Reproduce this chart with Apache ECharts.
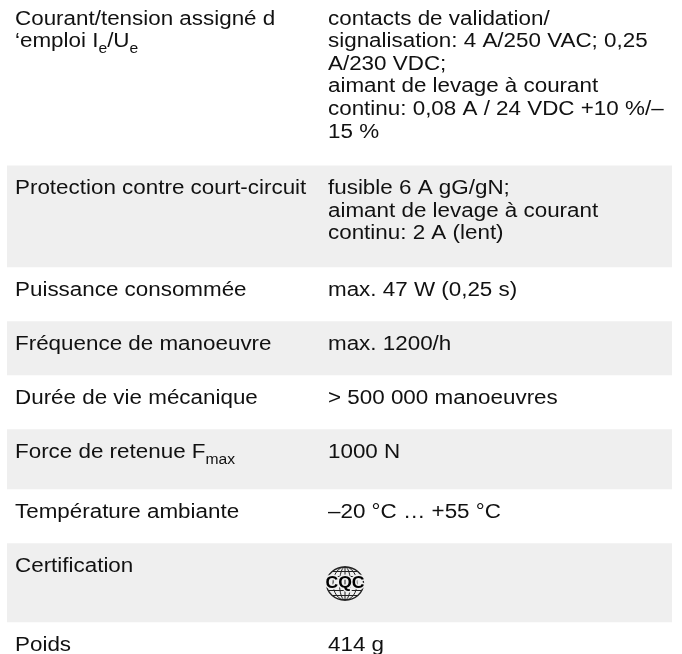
<!DOCTYPE html>
<html>
<head>
<meta charset="utf-8">
<script src="https://cdn.jsdelivr.net/npm/echarts@6/dist/echarts.min.js"></script>
<style>
  html, body { margin: 0; padding: 0; background: #fff; }
  #chart { width: 682px; height: 654px; }
</style>
</head>
<body>
<div id="chart"></div>
<script>
// ── Table content ────────────────────────────────────────────────────────────
// One entry per row; {sub|..} marks a subscript (rich text).

const labels = [
  'Courant/tension assigné d\n‘emploi I{sub|e}/U{sub|e}',
  'Protection contre court-circuit',
  'Puissance consommée',
  'Fréquence de manoeuvre',
  'Durée de vie mécanique',
  'Force de retenue F{sub|max}',
  'Température ambiante',
  'Certification',
  'Poids',
];

const values = [
  'contacts de validation/\nsignalisation: 4 A/250 VAC; 0,25\nA/230 VDC;\naimant de levage à courant\ncontinu: 0,08 A / 24 VDC +10 %/–\n15 %',
  'fusible 6 A gG/gN;\naimant de levage à courant\ncontinu: 2 A (lent)',
  'max. 47 W (0,25 s)',
  'max. 1200/h',
  '> 500 000 manoeuvres',
  '1000 N',
  '–20 °C … +55 °C',
  '',
  '414 g',
];

// certification marks shown under the value column
const marks = ['', '', '', '', '', '', '', 'CQC', ''];

// ── Layout ───────────────────────────────────────────────────────────────────

const W = 682, H = 654;
const LABEL_X = 15, VALUE_X = 328;
const BAND_X0 = 7, BAND_X1 = 672;
const START_Y = -4;
const LINE_H = 22.6, PAD_TOP = 11.7, PAD_BOTTOM = 19.7, MULTI_EXTRA = 2.5;
const SUB_EXTRA = 6, MARK_EXTRA = 25;
const FONT = '"Liberation Sans", Arial, Helvetica, sans-serif';
const FONT_SIZE = 20, SCALE_X = 1.12;
const TEXT_COLOR = '#111', BAND_COLOR = '#efefef';

const nLines = (s) => (s ? s.split('\n').length : 1);

// rows -> [top, bottom, index]
const rows = [];
let y = START_Y;
labels.forEach((lab, i) => {
  const la = nLines(lab), va = nLines(values[i]);
  const n = Math.max(la, va);
  let h = PAD_TOP + n * LINE_H + PAD_BOTTOM;
  if (n > 1) h += MULTI_EXTRA;
  const lastLab = lab.split('\n').pop();
  if (la >= va && lastLab.indexOf('{sub|') >= 0) h += SUB_EXTRA;
  if (marks[i]) h += MARK_EXTRA;
  rows.push([y, y + h, i]);
  y += h;
});

function textEl(x, y, text) {
  return {
    type: 'text',
    x: x, y: y,
    scaleX: SCALE_X,
    style: {
      text: text,
      x: 0, y: 0,
      fontFamily: FONT,
      fontSize: FONT_SIZE,
      lineHeight: LINE_H,
      fill: TEXT_COLOR,
      align: 'left',
      verticalAlign: 'top',
      rich: {
        sub: {
          fontFamily: FONT,
          fontSize: 14,
          lineHeight: LINE_H,
          fill: TEXT_COLOR,
          verticalAlign: 'top',
          padding: [12, 0, 0, 0],
        },
      },
    },
  };
}

// CQC globe mark
function cqcMark(cx, cy, label) {
  const rx = 18.5, ry = 16.5;
  const stroke = { stroke: '#222', fill: null, lineWidth: 1 };
  const kids = [
    { type: 'ellipse', shape: { cx: 0, cy: 0, rx: rx, ry: ry }, style: Object.assign({}, stroke, { lineWidth: 1.4 }) },
    { type: 'ellipse', shape: { cx: 0, cy: 0, rx: 12, ry: ry }, style: stroke },
    { type: 'ellipse', shape: { cx: 0, cy: 0, rx: 5.5, ry: ry }, style: stroke },
    { type: 'line', shape: { x1: 0, y1: -ry, x2: 0, y2: ry }, style: stroke },
  ];
  [-12, -7, 7, 12].forEach((dy) => {
    const dx = rx * Math.sqrt(1 - (dy / ry) * (dy / ry));
    kids.push({ type: 'line', shape: { x1: -dx, y1: dy, x2: dx, y2: dy }, style: stroke });
  });
  kids.push({
    type: 'text',
    scaleX: 1.1,
    style: {
      text: label, x: 0, y: 0.5,
      fontFamily: FONT, fontSize: 16, fontWeight: 'bold',
      fill: '#000', stroke: BAND_COLOR, lineWidth: 3,
      align: 'center', verticalAlign: 'middle',
    },
  });
  return { type: 'group', x: cx, y: cy, children: kids };
}

function renderRow(params, api) {
  const i = api.value(2);
  const p0 = api.coord([BAND_X0, api.value(0)]);
  const p1 = api.coord([BAND_X1, api.value(1)]);
  const kids = [];
  if (i % 2 === 1) {
    kids.push({
      type: 'rect',
      shape: { x: p0[0], y: p0[1], width: p1[0] - p0[0], height: p1[1] - p0[1] },
      style: { fill: BAND_COLOR },
    });
  }
  const lx = api.coord([LABEL_X, 0])[0];
  const vx = api.coord([VALUE_X, 0])[0];
  kids.push(textEl(lx, p0[1] + PAD_TOP, labels[i]));
  if (values[i]) kids.push(textEl(vx, p0[1] + PAD_TOP, values[i]));
  if (marks[i]) {
    kids.push(cqcMark(vx + 17, p0[1] + PAD_TOP + LINE_H + 6, marks[i]));
  }
  return { type: 'group', children: kids };
}

const chart = echarts.init(document.getElementById('chart'), null, { renderer: 'canvas' });
chart.setOption({
  animation: false,
  backgroundColor: '#fff',
  grid: { left: 0, right: 0, top: 0, bottom: 0 },
  xAxis: { type: 'value', min: 0, max: W, show: false },
  yAxis: { type: 'value', min: 0, max: H, inverse: true, show: false },
  series: [{
    type: 'custom',
    renderItem: renderRow,
    data: rows,
    clip: false,
  }],
});
</script>
</body>
</html>
